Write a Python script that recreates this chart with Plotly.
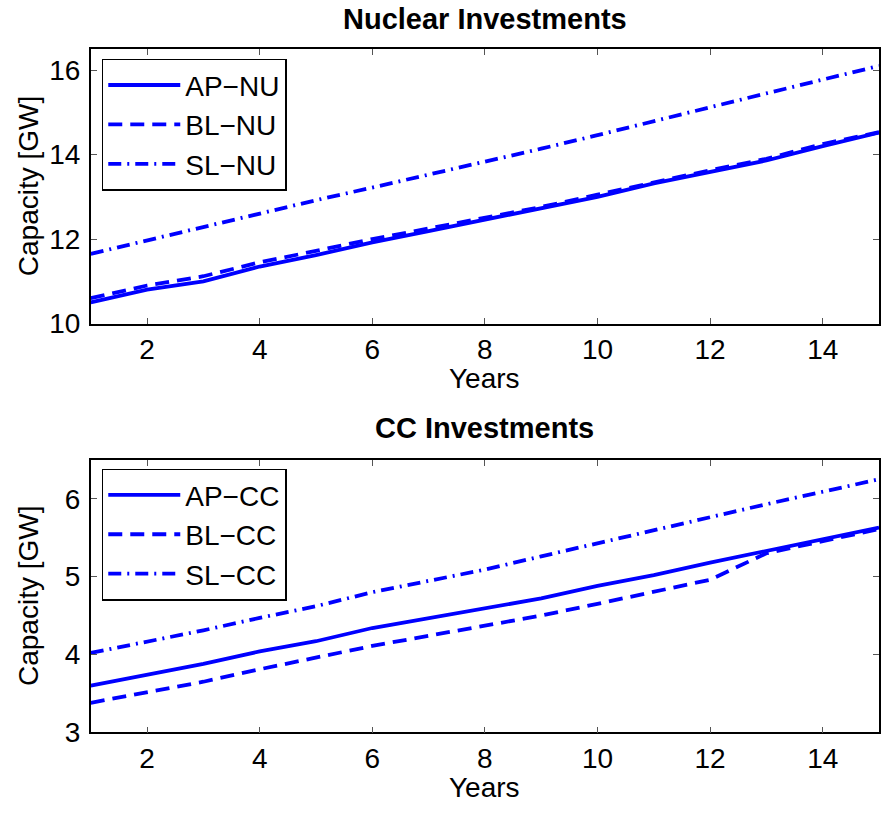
import plotly.graph_objects as go

years = list(range(1, 16))

ap_nu = [10.50, 10.80, 11.00, 11.35, 11.62, 11.92, 12.19, 12.46, 12.71, 13.00, 13.32, 13.60, 13.86, 14.20, 14.52]
bl_nu = [10.60, 10.90, 11.12, 11.45, 11.72, 12.00, 12.25, 12.50, 12.76, 13.05, 13.35, 13.63, 13.90, 14.25, 14.53]
sl_nu = [11.65, 11.97, 12.28, 12.60, 12.92, 13.22, 13.52, 13.82, 14.14, 14.46, 14.78, 15.12, 15.45, 15.78, 16.10]

ap_cc = [3.60, 3.74, 3.88, 4.04, 4.17, 4.34, 4.47, 4.59, 4.72, 4.88, 5.02, 5.18, 5.33, 5.48, 5.63]
bl_cc = [3.38, 3.51, 3.65, 3.81, 3.96, 4.11, 4.24, 4.37, 4.50, 4.65, 4.81, 4.96, 5.30, 5.46, 5.61]
sl_cc = [4.02, 4.16, 4.31, 4.47, 4.62, 4.80, 4.94, 5.09, 5.26, 5.43, 5.60, 5.77, 5.93, 6.09, 6.25]

x_ticks = [2, 4, 6, 8, 10, 12, 14]
nu_ticks = [10, 12, 14, 16]
cc_ticks = [3, 4, 5, 6]

FONT = "Liberation Sans, Arial, Helvetica, sans-serif"
BLUE = "#0000FF"
W, H = 881, 816
FS = 28
LW = 3.8
DASH = "14px,8px"
DASHDOT = "13px,6px,2px,6px"

fig = go.Figure()

styles = [("solid", "AP"), (DASH, "BL"), (DASHDOT, "SL")]
for (dash, pre), ys in zip(styles, [ap_nu, bl_nu, sl_nu]):
    fig.add_trace(go.Scatter(x=years, y=ys, mode="lines", name=f"{pre}\u2212NU",
                             line=dict(color=BLUE, width=LW, dash=dash),
                             xaxis="x", yaxis="y", legend="legend",
                             legendgroup=f"{pre}nu"))
for (dash, pre), ys in zip(styles, [ap_cc, bl_cc, sl_cc]):
    fig.add_trace(go.Scatter(x=years, y=ys, mode="lines", name=f"{pre}\u2212CC",
                             line=dict(color=BLUE, width=LW, dash=dash),
                             xaxis="x2", yaxis="y2", legend="legend2",
                             legendgroup=f"{pre}cc"))

def px_x(p):
    return p / W

def px_y(p):
    return 1 - p / H

axis_common = dict(showline=True, linecolor="black", linewidth=1.5, mirror="allticks",
                   ticks="inside", ticklen=6, tickwidth=1, tickcolor="#555",
                   showgrid=False, zeroline=False,
                   tickfont=dict(family=FONT, size=FS, color="black"))

xl, xr = 91, 881
top_t, top_b = 50, 330
bot_t, bot_b = 469, 747

legend_common = dict(xanchor="left", yanchor="top",
                     bgcolor="white", bordercolor="black", borderwidth=1.5,
                     font=dict(family=FONT, size=FS, color="black"),
                     traceorder="grouped", tracegroupgap=0, itemwidth=72)

fig.update_layout(
    width=W, height=H,
    margin=dict(l=0, r=0, t=0, b=0),
    paper_bgcolor="white", plot_bgcolor="white",
    font=dict(family=FONT, color="black"),
    xaxis=dict(domain=[px_x(xl), px_x(xr)], range=[1, 15], tickvals=x_ticks,
               anchor="y", ticklabelstandoff=0, **axis_common),
    yaxis=dict(domain=[px_y(top_b), px_y(top_t)], range=[10, 16.5], tickvals=nu_ticks,
               anchor="x", ticklabelstandoff=3, **axis_common),
    xaxis2=dict(domain=[px_x(xl), px_x(xr)], range=[1, 15], tickvals=x_ticks,
                anchor="y2", ticklabelstandoff=0, **axis_common),
    yaxis2=dict(domain=[px_y(bot_b), px_y(bot_t)], range=[3, 6.5], tickvals=cc_ticks,
                anchor="x2", ticklabelstandoff=3, **axis_common),
    legend=dict(x=px_x(102), y=px_y(60), **legend_common),
    legend2=dict(x=px_x(102), y=px_y(478), **legend_common),
    showlegend=True,
)

def note(text, x, y, angle=0, size=FS):
    return dict(text=text, x=px_x(x), y=px_y(y), xref="paper", yref="paper",
                xanchor="center", yanchor="middle", showarrow=False, textangle=angle,
                font=dict(family=FONT, size=size, color="black"))

ann = [
    note("<b>Nuclear Investments</b>", 486, 19, size=29),
    note("<b>CC Investments</b>", 486, 437, size=29),
    note("Years", 486, 386),
    note("Years", 486, 803),
    note("Capacity [GW]", 28, 190, -90),
    note("Capacity [GW]", 28, 608, -90),
]
fig.update_layout(annotations=ann)

fig.write_html("out.html")
